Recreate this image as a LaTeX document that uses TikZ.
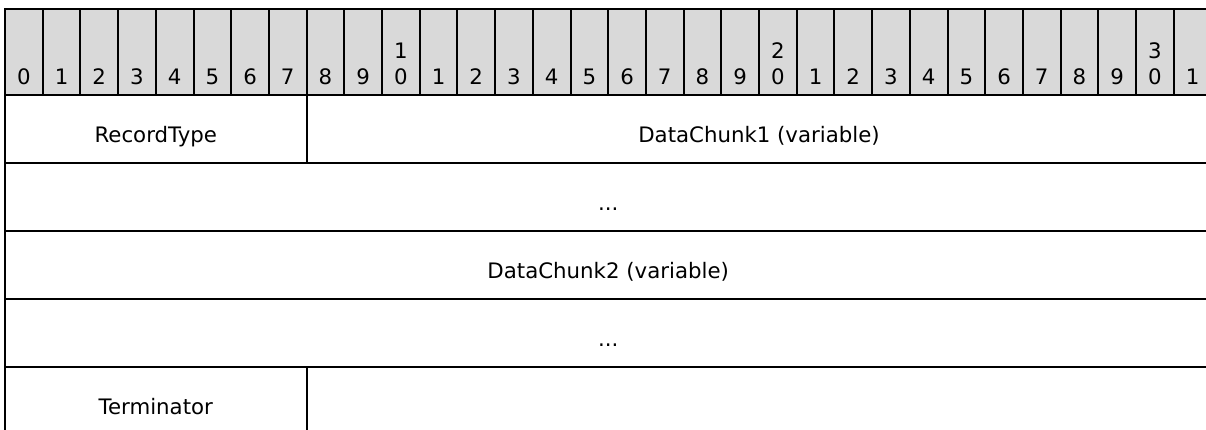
\documentclass[tikz,border=0pt]{standalone}
\usepackage{fontspec}
\setmainfont{DejaVu Sans}
\definecolor{headgray}{RGB}{217,217,217}
\begin{document}
\begin{tikzpicture}[
        % 以像素為單位 (y 向下)
        x=1pt, y=-1pt,
        font=\fontsize{21.3}{25}\selectfont,
        % 定義表頭格樣式:灰底、黑框
        bitcell/.style={
            rectangle,
            draw=black,
            fill=headgray,
            line width=2pt,
            minimum width=37.7pt,
            minimum height=86pt,
            inner sep=0pt
        },
        % 位元編號文字
        bitnum/.style={
            anchor=base,
            inner sep=0pt
        },
        % 定義欄位格樣式
        field/.style={
            rectangle,
            draw=black,
            line width=2pt,
            minimum height=68pt,
            inner sep=0pt,
            text height=26pt, % 讓基線落在格子中央偏下
            text depth=0pt
        }
    ]
        \useasboundingbox (0,0) rectangle (1206,429);
        \clip (0,0) rectangle (1206,429);

        % --- 1. 表頭 (Bit numbers) ---
        \foreach \b in {0,...,31} {
            \node[bitcell] (b\b) at ({5+37.7*(\b+0.5)}, 52) {};
            \pgfmathtruncatemacro\ones{mod(\b,10)}
            \node[bitnum] (d\b) at ([yshift=12pt]b\b.south) {\ones};
        }
        % 十位數 (只在 10, 20, 30)
        \foreach \b/\t in {10/1, 20/2, 30/3}
            \node[bitnum] (t\b) at ([yshift=26pt]d\b.base) {\t};

        % --- 2. 欄位 (Fields) ---
        % 第一列
        \node[field, minimum width=301.6pt] (rt) at (155.8, 129) {RecordType};
        \node[field, minimum width=904.8pt] (dc1) at (759.0, 129) {DataChunk1 (variable)};

        % 第二列
        \node[field, minimum width=1206.4pt] (dots1) at (608.2, 197) {...};

        % 第三列
        \node[field, minimum width=1206.4pt] (dc2) at (608.2, 265) {DataChunk2 (variable)};

        % 第四列
        \node[field, minimum width=1206.4pt] (dots2) at (608.2, 333) {...};

        % 第五列 (下方被截斷)
        \node[field, minimum width=301.6pt] (term) at (155.8, 401) {Terminator};
        \node[field, minimum width=904.8pt] (rest) at (759.0, 401) {};

    \end{tikzpicture}
\end{document}
